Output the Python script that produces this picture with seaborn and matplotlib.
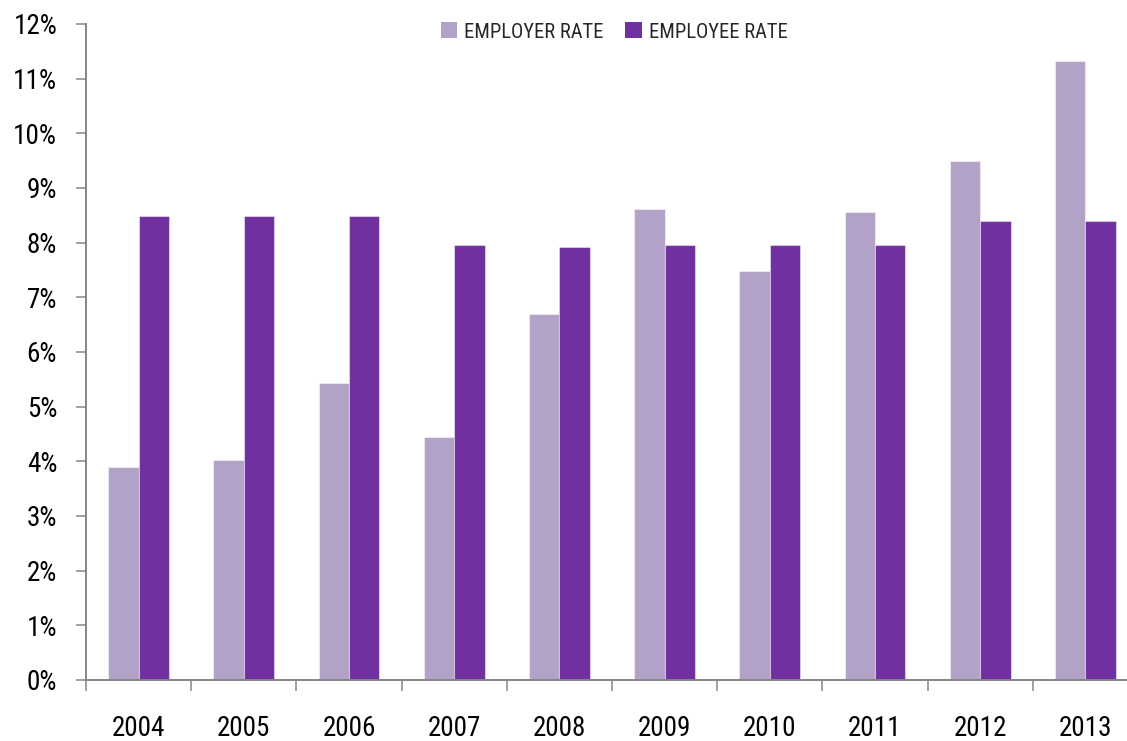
import matplotlib
matplotlib.use("Agg")
import matplotlib.pyplot as plt
from matplotlib.patches import Patch
import seaborn as sns
import pandas as pd

years = ["2004", "2005", "2006", "2007", "2008", "2009", "2010", "2011", "2012", "2013"]
employer_rate = [3.9, 4.03, 5.44, 4.44, 6.69, 8.62, 7.48, 8.56, 9.5, 11.32]
employee_rate = [8.48, 8.48, 8.48, 7.95, 7.92, 7.95, 7.95, 7.95, 8.39, 8.39]
series_names = ["EMPLOYER RATE", "EMPLOYEE RATE"]
colors = ["#B3A2C7", "#7030A0"]
y_ticks = list(range(0, 13))

sns.set_theme(style="white")
plt.rcParams["font.family"] = ["Roboto Condensed", "Roboto", "DejaVu Sans"]

df = pd.DataFrame({
    "year": years * 2,
    "rate": employer_rate + employee_rate,
    "series": [series_names[0]] * len(years) + [series_names[1]] * len(years),
})

fig = plt.figure(figsize=(11.27, 7.41), dpi=100)
ax = fig.add_axes([86 / 1127, 61 / 741, 1052 / 1127, 656 / 741])

sns.barplot(
    data=df, x="year", y="rate", hue="series", order=years,
    hue_order=series_names, palette=colors, saturation=1, width=0.578,
    edgecolor=(1, 1, 1, 0.45), linewidth=0.8, ax=ax, legend=False,
)

axis_gray = "#868686"
ax.set_xlim(-0.5, len(years) - 0.5)
ax.set_ylim(0, 12)
ax.set_xlabel("")
ax.set_ylabel("")

ax.set_yticks(y_ticks)
ax.set_yticklabels([f"{t}%" for t in y_ticks], fontsize=19.5, color="black")
ax.tick_params(axis="y", which="major", direction="out", length=7.2, width=1.1,
               color=axis_gray, pad=13.5, left=True)

ax.set_xticks(range(len(years)))
ax.set_xticklabels(years, fontsize=19.5, color="black", va="top")
ax.tick_params(axis="x", which="major", length=0, pad=25, bottom=True)
ax.set_xticks([i - 0.5 for i in range(len(years) + 1)], minor=True)
ax.tick_params(axis="x", which="minor", direction="out", length=8, width=1.1,
               color=axis_gray, bottom=True)

for side in ["top", "right"]:
    ax.spines[side].set_visible(False)
for side in ["left", "bottom"]:
    ax.spines[side].set_color(axis_gray)
    ax.spines[side].set_linewidth(1.4)

handles = [Patch(facecolor=c, edgecolor="none") for c in colors]
fig.legend(
    handles, series_names, loc="center", bbox_to_anchor=(614 / 1127, 1 - 32 / 741),
    ncol=2, frameon=False, fontsize=14.8, handlelength=0.8, handleheight=0.8,
    handletextpad=0.35, columnspacing=1.05, borderaxespad=0, borderpad=0,
)

fig.savefig("out.png", dpi=100)
